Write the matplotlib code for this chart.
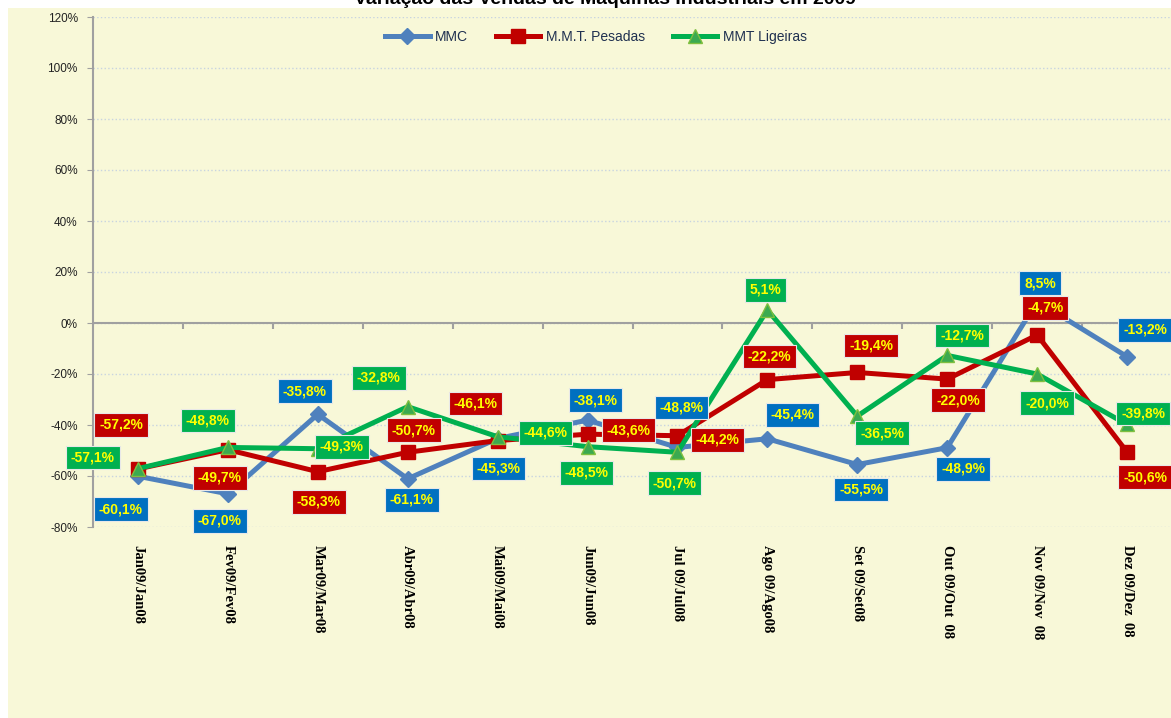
import matplotlib
matplotlib.use("Agg")
import matplotlib.pyplot as plt
from matplotlib.patches import Rectangle

plt.rcParams['font.family'] = ['Liberation Sans', 'DejaVu Sans']

meses = ["Jan09/Jan08", "Fev09/Fev08", "Mar09/Mar08", "Abr09/Abr08",
         "Mai09/Mai08", "Jun09/Jun08", "Jul 09/Jul08", "Ago 09/Ago08",
         "Set 09/Set08", "Out 09/Out  08", "Nov 09/Nov  08", "Dez 09/Dez  08"]

mmc = [-60.1, -67.0, -35.8, -61.1, -45.3, -38.1, -48.8, -45.4, -55.5, -48.9, 8.5, -13.2]
pesadas = [-57.2, -49.7, -58.3, -50.7, -46.1, -43.6, -44.2, -22.2, -19.4, -22.0, -4.7, -50.6]
ligeiras = [-57.1, -48.8, -49.3, -32.8, -44.6, -48.5, -50.7, 5.1, -36.5, -12.7, -20.0, -39.8]

# label offsets in pixels (dx, dy, y down positive) - placement only
off_mmc = [(-17, 33), (-8, 27), (-13, -23), (4, 21), (1, 30), (8, -20),
           (4, -40), (25, -24), (4, 25), (16, 21), (3, -18), (18, -27)]
off_pes = [(-17, -44), (-8, 28), (1, 30), (6, -22), (-22, -37), (41, -4),
           (40, 4), (2, -23), (14, -27), (11, 21), (8, -27), (18, 25)]
off_lig = [(-45, -11), (-20, -27), (24, -2), (-29, -29), (48, -4), (-1, 26),
           (-3, 31), (-2, -20), (25, 17), (15, -20), (10, 29), (16, -11)]

bg = '#F8F8D8'
fig = plt.figure(figsize=(11.71, 7.18), dpi=100, facecolor='white')
fig.patches.append(Rectangle((8 / 1171, 0), 1, 1 - 8 / 718, transform=fig.transFigure,
                             facecolor=bg, edgecolor='none', zorder=-10))

fig.text(605 / 1171, 1 - 4 / 718, "Variação das Vendas de Máquinas Industriais em 2009",
         ha='center', va='baseline', fontsize=14, fontweight='bold')

ax = fig.add_axes([93 / 1171, 1 - 527 / 718, (1172 - 93) / 1171, (527 - 17) / 718])
ax.set_zorder(1)
ax.set_facecolor(bg)

x = list(range(len(meses)))
ax.plot(x, mmc, color='#4F81BD', lw=3.6, marker='D', ms=8, mfc='#4F81BD', mec='#4F81BD',
        label='MMC', zorder=3)
ax.plot(x, pesadas, color='#C00000', lw=3.6, marker='s', ms=10, mfc='#C00000', mec='#C00000',
        label='M.M.T. Pesadas', zorder=4)
ax.plot(x, ligeiras, color='#00B050', lw=3.6, marker='^', ms=10, mfc='#3BAA50', mec='#7FBF3F',
        label='MMT Ligeiras', zorder=5)

series = [(mmc, off_mmc, '#0070C0'), (pesadas, off_pes, '#C00000'), (ligeiras, off_lig, '#00B050')]
for vals, offs, col in series:
    for i, v in enumerate(vals):
        dx, dy = offs[i]
        txt = f"{v:.1f}%".replace('.', ',')
        ax.annotate(txt, (i, v), xytext=(dx, -dy), textcoords='offset pixels',
                    ha='center', va='center', fontsize=10, fontweight='bold', color='#FFFF00',
                    bbox=dict(boxstyle='square,pad=0.35', facecolor=col, edgecolor='#E8E8E8', lw=0.8),
                    zorder=10, annotation_clip=False)

ax.set_xlim(-0.5, len(meses) - 0.5)
ax.set_ylim(-80, 120)
ax.set_yticks(range(-80, 121, 20))
ax.set_yticklabels([f"{t}%" for t in range(-80, 121, 20)], fontsize=8.5, color='#222222')
ax.grid(axis='y', color='#C8D4E0', linestyle=':', lw=1)
ax.set_axisbelow(True)
for s in ['top', 'right', 'bottom']:
    ax.spines[s].set_visible(False)
ax.spines['left'].set_color('#A0A0A0')
ax.spines['left'].set_linewidth(1.5)
ax.tick_params(axis='y', length=4, color='#A0A0A0', pad=7)

# category axis crossing at 0%
ax.axhline(0, color='#A0A0A0', lw=1.5, zorder=2)
ax.vlines([i + 0.5 for i in x[:-1]], -2.5, 0, color='#A0A0A0', lw=1.5, zorder=2)

ax.set_xticks(x)
ax.set_xticklabels(meses, rotation=-90, fontsize=10.5, family='Liberation Serif',
                   fontweight='bold', va='top', ha='center')
ax.tick_params(axis='x', length=0, pad=13)

ax.legend(loc='center', bbox_to_anchor=(596 / 1171, 1 - 37 / 718), bbox_transform=fig.transFigure,
          ncol=3, frameon=False, fontsize=10, handlelength=3.2, columnspacing=2.0, handletextpad=0.4,
          labelcolor='#1F3050')

fig.savefig("out.png", dpi=100, facecolor='white')
